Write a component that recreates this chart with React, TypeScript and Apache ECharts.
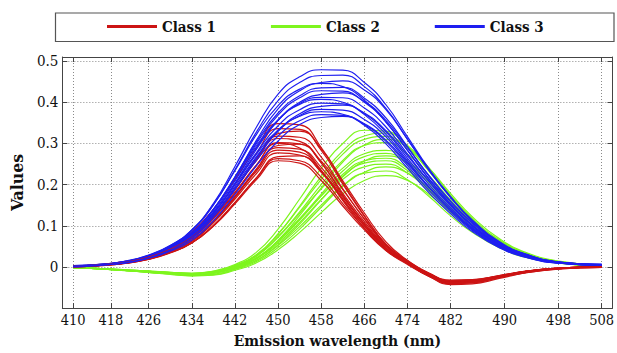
import React, { useEffect, useRef } from "react";
import * as echarts from "echarts";

// Spectral band index at which every curve is sampled
const sampleIdx = [0, 5, 10, 14, 18, 22, 26, 30, 34, 38, 42, 46, 50, 54, 58, 62, 66, 70, 74, 79, 84, 90, 98];

// Labelled bands on the wavelength axis
const tickIdx = [0, 7, 14, 22, 30, 38, 46, 54, 62, 70, 80, 90, 98];
const tickWavelength = [410, 418, 426, 434, 442, 450, 458, 466, 474, 482, 490, 498, 508];
const valueTicks = [0, 0.1, 0.2, 0.3, 0.4, 0.5];

const classNames = ["Class 1", "Class 2", "Class 3"];
const classColors = ["#cc1414", "#7ef51e", "#1e1ef0"];

// Class 1 spectra
const class1 = [
  [0.002, 0.006, 0.014, 0.027, 0.05, 0.085, 0.14, 0.212, 0.29, 0.348, 0.345, 0.29, 0.205, 0.125, 0.055, 0.012, -0.02, -0.038, -0.036, -0.024, -0.012, -0.004, 0.0],
  [0.001, 0.005, 0.013, 0.025, 0.046, 0.078, 0.131, 0.2, 0.276, 0.336, 0.334, 0.283, 0.201, 0.123, 0.055, 0.014, -0.018, -0.036, -0.034, -0.023, -0.011, -0.003, 0.0],
  [0.0, 0.004, 0.011, 0.022, 0.042, 0.071, 0.121, 0.188, 0.262, 0.324, 0.33, 0.287, 0.209, 0.131, 0.061, 0.016, -0.016, -0.034, -0.033, -0.022, -0.011, -0.003, 0.001],
  [0.002, 0.005, 0.012, 0.023, 0.043, 0.072, 0.122, 0.188, 0.26, 0.318, 0.315, 0.267, 0.19, 0.116, 0.052, 0.012, -0.019, -0.037, -0.035, -0.023, -0.011, -0.004, 0.0],
  [0.001, 0.005, 0.013, 0.025, 0.045, 0.075, 0.125, 0.19, 0.259, 0.312, 0.305, 0.253, 0.175, 0.104, 0.045, 0.008, -0.022, -0.04, -0.038, -0.025, -0.013, -0.004, -0.001],
  [0.0, 0.004, 0.011, 0.022, 0.04, 0.068, 0.117, 0.179, 0.247, 0.302, 0.299, 0.253, 0.179, 0.11, 0.05, 0.012, -0.018, -0.035, -0.033, -0.022, -0.011, -0.003, 0.0],
  [0.002, 0.004, 0.01, 0.02, 0.037, 0.063, 0.109, 0.17, 0.237, 0.295, 0.298, 0.257, 0.188, 0.117, 0.055, 0.015, -0.015, -0.032, -0.031, -0.021, -0.01, -0.003, 0.001],
  [0.001, 0.004, 0.01, 0.021, 0.039, 0.065, 0.112, 0.172, 0.238, 0.29, 0.286, 0.242, 0.172, 0.105, 0.047, 0.011, -0.02, -0.038, -0.036, -0.024, -0.012, -0.004, 0.0],
  [0.0, 0.004, 0.01, 0.02, 0.038, 0.064, 0.109, 0.169, 0.233, 0.284, 0.279, 0.233, 0.165, 0.1, 0.044, 0.009, -0.022, -0.041, -0.039, -0.026, -0.014, -0.005, -0.001],
  [0.002, 0.004, 0.01, 0.02, 0.037, 0.062, 0.107, 0.165, 0.227, 0.277, 0.272, 0.23, 0.163, 0.099, 0.045, 0.011, -0.017, -0.034, -0.032, -0.022, -0.011, -0.003, 0.0],
  [0.001, 0.003, 0.009, 0.018, 0.034, 0.058, 0.1, 0.156, 0.217, 0.268, 0.27, 0.232, 0.169, 0.104, 0.05, 0.013, -0.016, -0.033, -0.032, -0.021, -0.01, -0.003, 0.0],
  [0.0, 0.003, 0.009, 0.019, 0.035, 0.059, 0.101, 0.157, 0.216, 0.263, 0.258, 0.218, 0.154, 0.094, 0.042, 0.009, -0.02, -0.038, -0.036, -0.024, -0.012, -0.004, 0.0],
  [0.001, 0.004, 0.01, 0.019, 0.035, 0.058, 0.099, 0.153, 0.212, 0.258, 0.252, 0.21, 0.148, 0.09, 0.04, 0.008, -0.023, -0.043, -0.041, -0.028, -0.014, -0.005, -0.001],
  [0.002, 0.005, 0.012, 0.024, 0.043, 0.072, 0.12, 0.182, 0.248, 0.3, 0.289, 0.235, 0.161, 0.094, 0.04, 0.006, -0.023, -0.04, -0.037, -0.025, -0.013, -0.004, 0.0],
];

// Class 2 spectra
const class2 = [
  [-0.001, -0.004, -0.008, -0.011, -0.014, -0.016, -0.01, 0.006, 0.036, 0.092, 0.165, 0.24, 0.3, 0.332, 0.33, 0.292, 0.232, 0.17, 0.115, 0.064, 0.033, 0.013, 0.003],
  [-0.002, -0.005, -0.009, -0.012, -0.015, -0.018, -0.013, 0.002, 0.028, 0.08, 0.148, 0.22, 0.282, 0.318, 0.325, 0.295, 0.24, 0.174, 0.118, 0.066, 0.033, 0.013, 0.003],
  [-0.001, -0.004, -0.007, -0.01, -0.013, -0.015, -0.011, 0.004, 0.03, 0.08, 0.145, 0.213, 0.274, 0.31, 0.317, 0.288, 0.234, 0.17, 0.115, 0.064, 0.032, 0.013, 0.003],
  [-0.002, -0.005, -0.008, -0.012, -0.016, -0.02, -0.016, -0.003, 0.02, 0.065, 0.125, 0.192, 0.255, 0.296, 0.31, 0.29, 0.24, 0.178, 0.122, 0.069, 0.035, 0.014, 0.004],
  [-0.001, -0.004, -0.008, -0.011, -0.014, -0.017, -0.012, 0.003, 0.027, 0.074, 0.134, 0.2, 0.259, 0.295, 0.302, 0.274, 0.222, 0.162, 0.11, 0.061, 0.031, 0.012, 0.003],
  [-0.002, -0.005, -0.009, -0.013, -0.016, -0.019, -0.014, 0.001, 0.026, 0.072, 0.13, 0.19, 0.24, 0.275, 0.283, 0.258, 0.208, 0.152, 0.103, 0.057, 0.029, 0.011, 0.003],
  [-0.001, -0.004, -0.008, -0.011, -0.015, -0.018, -0.014, -0.001, 0.021, 0.062, 0.116, 0.177, 0.233, 0.268, 0.276, 0.25, 0.203, 0.148, 0.1, 0.056, 0.028, 0.011, 0.003],
  [-0.002, -0.005, -0.009, -0.013, -0.017, -0.021, -0.018, -0.005, 0.016, 0.054, 0.104, 0.163, 0.219, 0.257, 0.27, 0.253, 0.21, 0.157, 0.107, 0.061, 0.031, 0.012, 0.003],
  [-0.001, -0.004, -0.007, -0.01, -0.013, -0.016, -0.012, 0.002, 0.022, 0.062, 0.114, 0.172, 0.225, 0.258, 0.264, 0.24, 0.195, 0.142, 0.096, 0.053, 0.027, 0.011, 0.003],
  [-0.002, -0.005, -0.009, -0.012, -0.016, -0.019, -0.015, -0.001, 0.022, 0.064, 0.118, 0.174, 0.221, 0.252, 0.258, 0.234, 0.188, 0.137, 0.093, 0.052, 0.026, 0.01, 0.002],
  [-0.001, -0.004, -0.008, -0.011, -0.014, -0.017, -0.013, 0.0, 0.02, 0.058, 0.108, 0.164, 0.213, 0.243, 0.25, 0.228, 0.184, 0.134, 0.091, 0.05, 0.025, 0.01, 0.002],
  [-0.002, -0.005, -0.009, -0.013, -0.017, -0.021, -0.019, -0.006, 0.013, 0.047, 0.092, 0.145, 0.196, 0.23, 0.243, 0.228, 0.19, 0.142, 0.097, 0.055, 0.028, 0.011, 0.003],
  [-0.001, -0.004, -0.008, -0.011, -0.015, -0.018, -0.015, -0.003, 0.016, 0.052, 0.098, 0.15, 0.198, 0.228, 0.233, 0.212, 0.171, 0.124, 0.084, 0.047, 0.023, 0.009, 0.002],
  [-0.002, -0.005, -0.009, -0.013, -0.018, -0.022, -0.02, -0.008, 0.01, 0.042, 0.084, 0.132, 0.178, 0.21, 0.222, 0.21, 0.176, 0.132, 0.091, 0.052, 0.026, 0.01, 0.002],
];

// Class 3 spectra
const class3 = [
  [0.002, 0.006, 0.014, 0.028, 0.052, 0.09, 0.154, 0.244, 0.34, 0.42, 0.462, 0.479, 0.478, 0.448, 0.394, 0.316, 0.238, 0.17, 0.112, 0.06, 0.03, 0.012, 0.006],
  [0.001, 0.005, 0.013, 0.027, 0.05, 0.088, 0.15, 0.236, 0.328, 0.404, 0.448, 0.465, 0.466, 0.438, 0.385, 0.31, 0.234, 0.168, 0.112, 0.06, 0.03, 0.012, 0.005],
  [0.003, 0.005, 0.012, 0.025, 0.046, 0.08, 0.138, 0.218, 0.308, 0.384, 0.428, 0.448, 0.452, 0.43, 0.382, 0.31, 0.236, 0.17, 0.114, 0.062, 0.031, 0.012, 0.006],
  [0.0, 0.006, 0.015, 0.029, 0.052, 0.09, 0.152, 0.234, 0.322, 0.392, 0.432, 0.446, 0.438, 0.405, 0.352, 0.283, 0.213, 0.152, 0.1, 0.055, 0.027, 0.011, 0.004],
  [0.002, 0.004, 0.012, 0.026, 0.048, 0.082, 0.14, 0.219, 0.304, 0.374, 0.416, 0.435, 0.436, 0.41, 0.362, 0.292, 0.22, 0.158, 0.106, 0.057, 0.028, 0.011, 0.005],
  [0.001, 0.005, 0.013, 0.026, 0.047, 0.082, 0.139, 0.216, 0.3, 0.369, 0.411, 0.428, 0.427, 0.4, 0.352, 0.283, 0.214, 0.153, 0.102, 0.055, 0.028, 0.011, 0.004],
  [0.003, 0.006, 0.012, 0.024, 0.044, 0.075, 0.129, 0.203, 0.286, 0.356, 0.4, 0.419, 0.423, 0.402, 0.356, 0.29, 0.222, 0.16, 0.108, 0.059, 0.03, 0.012, 0.006],
  [0.0, 0.004, 0.012, 0.025, 0.046, 0.079, 0.134, 0.209, 0.29, 0.356, 0.397, 0.412, 0.411, 0.386, 0.34, 0.274, 0.207, 0.149, 0.1, 0.054, 0.027, 0.01, 0.004],
  [0.002, 0.005, 0.014, 0.027, 0.049, 0.083, 0.14, 0.216, 0.295, 0.358, 0.395, 0.407, 0.4, 0.37, 0.322, 0.258, 0.194, 0.139, 0.092, 0.05, 0.025, 0.01, 0.005],
  [0.001, 0.004, 0.012, 0.024, 0.044, 0.076, 0.13, 0.202, 0.278, 0.343, 0.382, 0.398, 0.396, 0.372, 0.328, 0.264, 0.2, 0.144, 0.096, 0.052, 0.026, 0.01, 0.004],
  [0.002, 0.005, 0.011, 0.022, 0.041, 0.07, 0.12, 0.19, 0.265, 0.33, 0.372, 0.39, 0.393, 0.374, 0.331, 0.27, 0.207, 0.149, 0.101, 0.056, 0.028, 0.011, 0.005],
  [0.0, 0.004, 0.011, 0.023, 0.042, 0.073, 0.125, 0.195, 0.268, 0.33, 0.368, 0.383, 0.381, 0.358, 0.316, 0.254, 0.193, 0.139, 0.092, 0.05, 0.025, 0.01, 0.004],
  [0.002, 0.005, 0.013, 0.025, 0.045, 0.077, 0.13, 0.201, 0.274, 0.333, 0.366, 0.377, 0.371, 0.344, 0.299, 0.24, 0.18, 0.129, 0.086, 0.047, 0.023, 0.009, 0.004],
  [0.001, 0.004, 0.011, 0.022, 0.041, 0.071, 0.121, 0.188, 0.259, 0.318, 0.355, 0.37, 0.368, 0.346, 0.305, 0.246, 0.186, 0.134, 0.089, 0.048, 0.024, 0.009, 0.004],
  [0.002, 0.005, 0.01, 0.021, 0.038, 0.065, 0.112, 0.176, 0.246, 0.306, 0.346, 0.363, 0.366, 0.348, 0.308, 0.251, 0.192, 0.139, 0.094, 0.052, 0.026, 0.01, 0.005],
];

const FONT = "DejaVu Serif Condensed, DejaVu Serif";
const AXIS_COLOR = "#444";

function curveSeries(values: number[], classIndex: number) {
  return {
    type: "line",
    name: classNames[classIndex],
    xAxisIndex: 0,
    yAxisIndex: 0,
    data: sampleIdx.map((x, i) => [x, values[i]]),
    showSymbol: false,
    symbol: "none",
    smooth: 0.5,
    color: classColors[classIndex],
    lineStyle: { width: 1.2, color: classColors[classIndex] },
    emphasis: { disabled: true },
  };
}

function buildSeries() {
  const out: any[] = [];
  class2.forEach((c) => out.push(curveSeries(c, 1)));
  const n = Math.max(class1.length, class3.length);
  for (let k = 0; k < n; k++) {
    if (class1[k]) out.push(curveSeries(class1[k], 0));
    if (class3[k]) out.push(curveSeries(class3[k], 2));
  }
  return out;
}

const wavelengthLabel = (v: number) => {
  const k = tickIdx.indexOf(v);
  return k >= 0 ? String(tickWavelength[k]) : "";
};

export default function App() {
  const ref = useRef<HTMLDivElement>(null);

  useEffect(() => {
    document.body.style.margin = "0";
    if (!ref.current) return;
    const chart = echarts.init(ref.current, undefined, { renderer: "svg" });

    const frameX = { type: "value", min: -2, max: 100, gridIndex: 0 };
    const frameY = { type: "value", min: -0.1, max: 0.51, gridIndex: 0 };

    chart.setOption({
      animation: false,
      backgroundColor: "#ffffff",
      textStyle: { fontFamily: FONT },
      grid: { left: 55, top: 57, width: 560, height: 258, show: false },
      graphic: [
        {
          type: "rect",
          shape: { x: 55.5, y: 13, width: 558.5, height: 28.5 },
          style: { fill: "none", stroke: "#555", lineWidth: 1.2 },
          z: 0,
        },
      ],
      legend: {
        data: classNames,
        left: 107,
        top: 19,
        padding: 0,
        itemWidth: 50,
        itemHeight: 3,
        itemGap: 55,
        icon: "rect",
        selectedMode: false,
        textStyle: { fontFamily: FONT, fontWeight: "bold", fontSize: 15, color: "#111" },
      },
      xAxis: [
        {
          ...frameX,
          position: "bottom",
          axisLine: { show: true, onZero: false, lineStyle: { color: AXIS_COLOR, width: 1 } },
          axisTick: { show: true, inside: true, length: 5, customValues: tickIdx, lineStyle: { color: AXIS_COLOR } },
          axisLabel: {
            customValues: tickIdx,
            formatter: wavelengthLabel,
            margin: 4,
            fontFamily: FONT,
            fontSize: 14.5,
            color: "#111",
          },
          splitLine: { show: true, lineStyle: { color: "#8a8a8a", type: [1, 2], width: 1 } },
          name: "Emission wavelength (nm)",
          nameLocation: "middle",
          nameGap: 20,
          nameTextStyle: { fontFamily: FONT, fontWeight: "bold", fontSize: 15.5, color: "#111" },
        },
        {
          ...frameX,
          position: "top",
          axisLine: { show: true, onZero: false, lineStyle: { color: AXIS_COLOR, width: 1 } },
          axisTick: { show: true, inside: true, length: 5, customValues: tickIdx, lineStyle: { color: AXIS_COLOR } },
          axisLabel: { show: false },
          splitLine: { show: false },
        },
      ],
      yAxis: [
        {
          ...frameY,
          position: "left",
          axisLine: { show: true, onZero: false, lineStyle: { color: AXIS_COLOR, width: 1 } },
          axisTick: { show: true, inside: true, length: 5, customValues: valueTicks, lineStyle: { color: AXIS_COLOR } },
          axisLabel: {
            customValues: valueTicks,
            formatter: (v: number) => String(v),
            margin: 4,
            fontFamily: FONT,
            fontSize: 15,
            color: "#111",
          },
          splitLine: { show: true, lineStyle: { color: "#8a8a8a", type: [1, 2], width: 1 } },
          name: "Values",
          nameLocation: "middle",
          nameGap: 28,
          nameTextStyle: { fontFamily: FONT, fontWeight: "bold", fontSize: 17.5, color: "#111" },
        },
        {
          ...frameY,
          position: "right",
          axisLine: { show: true, onZero: false, lineStyle: { color: AXIS_COLOR, width: 1 } },
          axisTick: { show: true, inside: true, length: 5, customValues: valueTicks, lineStyle: { color: AXIS_COLOR } },
          axisLabel: { show: false },
          splitLine: { show: false },
        },
      ],
      series: buildSeries(),
    });

    return () => chart.dispose();
  }, []);

  return <div ref={ref} style={{ width: 617, height: 353 }} />;
}
